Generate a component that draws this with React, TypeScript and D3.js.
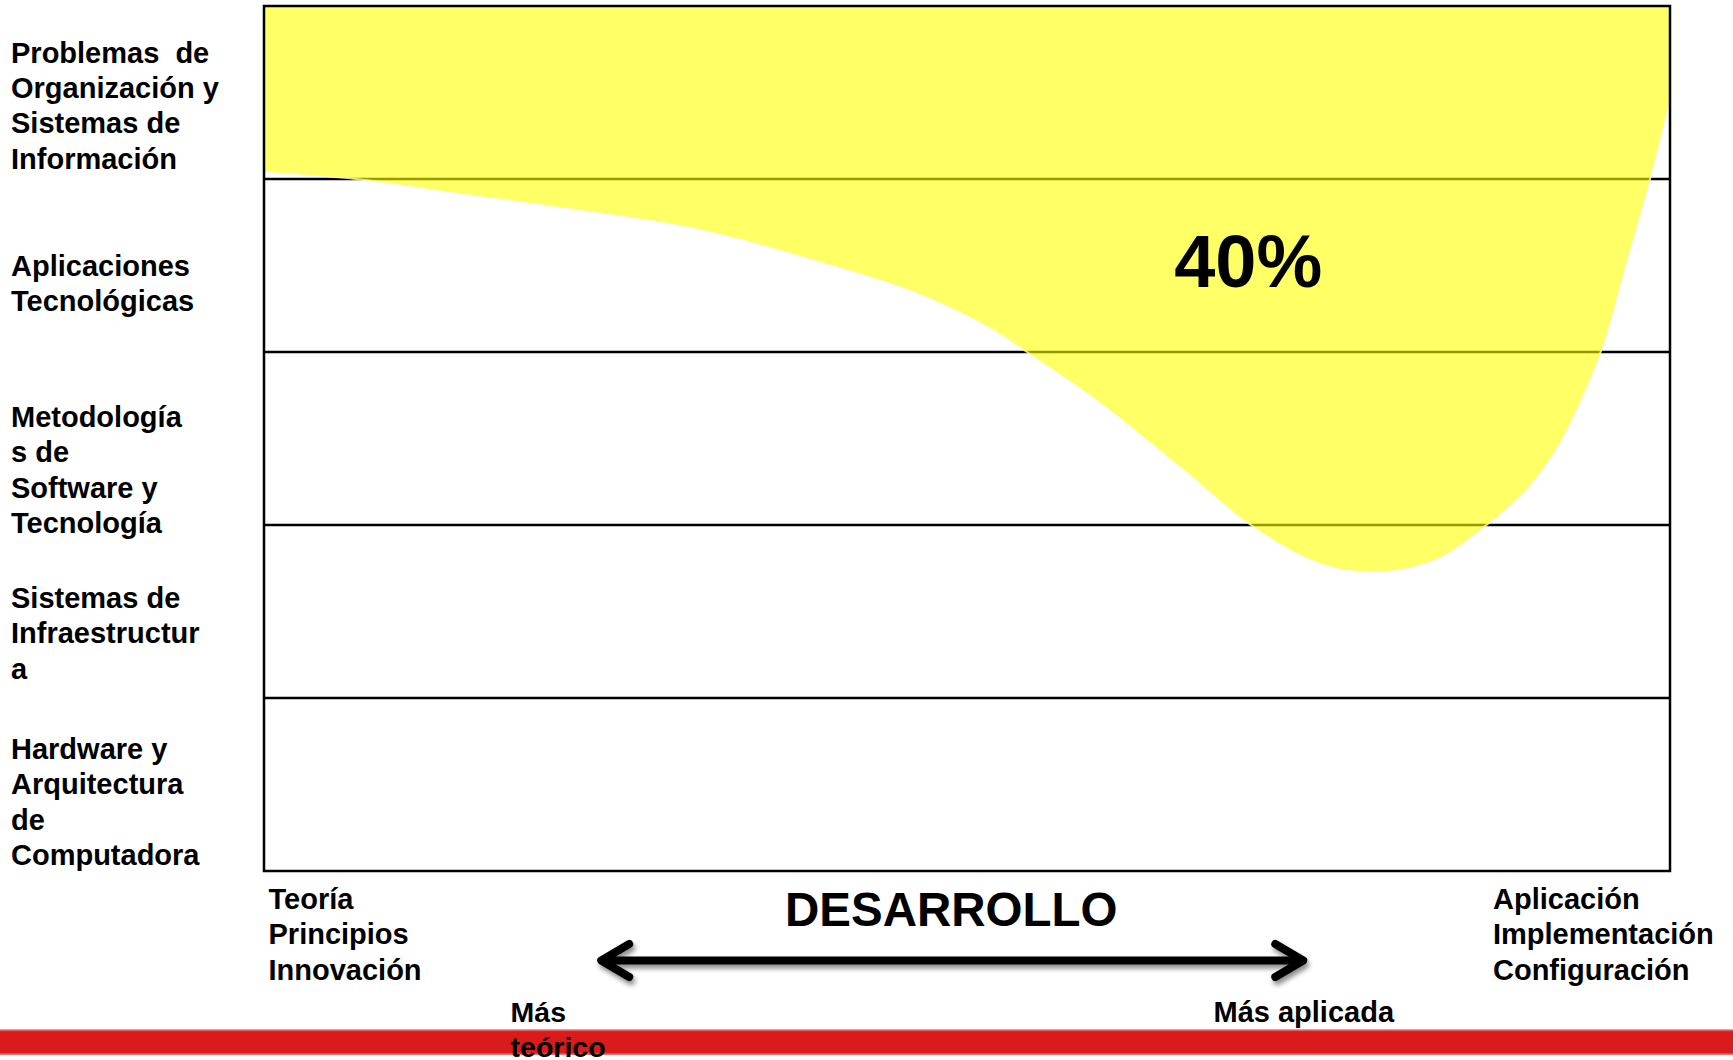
import React from 'react';
import * as d3 from 'd3';

// Layers of the discipline, from the organisational top to the hardware bottom
const layerLabels: string[][] = [
  ['Problemas  de', 'Organización y', 'Sistemas de', 'Información'],
  ['Aplicaciones', 'Tecnológicas'],
  ['Metodología', 's de', 'Software y', 'Tecnología'],
  ['Sistemas de', 'Infraestructur', 'a'],
  ['Hardware y', 'Arquitectura', 'de', 'Computadora'],
];

// Coverage profile: position on the theory→application axis (0–100)
// and how deep (in layers, from the top) the covered area reaches
const profileX = [0, 6.54, 14.51, 21.76, 31.01, 39.19, 46.51, 51.42, 54.27, 59.6, 65.72, 70.2, 75.11, 79.16, 83.29, 86.95, 88.83, 90.54, 92.25, 95.02, 96.94, 98.58, 100];
const profileDepth = [0.96, 1.0, 1.09, 1.17, 1.29, 1.47, 1.66, 1.85, 2.0, 2.3, 2.7, 3.0, 3.22, 3.27, 3.2, 3.0, 2.87, 2.72, 2.51, 2.01, 1.47, 1.0, 0.54];

const coverageShare = 40;

const theoryLabels = ['Teoría', 'Principios', 'Innovación'];
const applicationLabels = ['Aplicación', 'Implementación', 'Configuración'];
const axisTitle = 'DESARROLLO';
const moreTheoretical = ['Más', 'teórico'];
const moreApplied = ['Más aplicada'];

const W = 1733;
const H = 1060;
const frame = { left: 264, right: 1670, top: 6, bottom: 871 };
const FONT = '"Liberation Sans", Arial, Helvetica, sans-serif';
const LINE = 35.4;
// per-layer vertical shift of the left-hand label blocks
const labelShift = [12.6, 17.4, 31.1, 21.4, 17.1];

export default function App() {
  const x = d3.scaleLinear().domain([0, 100]).range([frame.left, frame.right]);
  const y = d3.scaleLinear().domain([0, layerLabels.length]).range([frame.top, frame.bottom]);
  const band = d3
    .scaleBand<number>()
    .domain(d3.range(layerLabels.length))
    .range([frame.top, frame.bottom]);

  const profile = profileX.map((v, i) => ({ x: v, d: profileDepth[i] }));
  const curve = d3.curveCatmullRom.alpha(0.5);

  const area = d3
    .area<{ x: number; d: number }>()
    .x((p) => x(p.x))
    .y0(y(0))
    .y1((p) => y(p.d))
    .curve(curve);
  const edge = d3
    .line<{ x: number; d: number }>()
    .x((p) => x(p.x))
    .y((p) => y(p.d))
    .curve(curve);

  const dividers = d3.range(1, layerLabels.length);

  // arrow along the bottom, in axis units
  const arrowFrom = x(23.7);
  const arrowTo = x(74.2);
  const arrowY = 960.5;
  const head = { dx: 32, dy: 16.5 };

  return (
    <svg
      width={W}
      height={H}
      viewBox={`0 0 ${W} ${H}`}
      style={{ position: 'absolute', left: 0, top: 0, background: '#fff' }}
      fontFamily={FONT}
      fontWeight="bold"
    >
      <defs>
        <filter id="arrowShadow" x="-10%" y="-60%" width="120%" height="220%">
          <feDropShadow dx="2" dy="4" stdDeviation="2.5" floodColor="#000" floodOpacity="0.45" />
        </filter>
        <linearGradient id="redBar" x1="0" y1="0" x2="0" y2="1">
          <stop offset="0" stopColor="#f2b8b8" />
          <stop offset="0.1" stopColor="#da1b1b" />
          <stop offset="0.9" stopColor="#da1b1b" />
          <stop offset="1" stopColor="#eb8a8a" />
        </linearGradient>
      </defs>

      <rect x={0} y={0} width={W} height={H} fill="#fff" />

      {/* layer dividers */}
      {dividers.map((d) => (
        <line
          key={d}
          x1={frame.left}
          x2={frame.right}
          y1={y(d)}
          y2={y(d)}
          stroke="#000"
          strokeWidth={2.5}
        />
      ))}

      {/* covered area */}
      <path d={edge(profile) ?? ''} fill="none" stroke="#fff" strokeWidth={2} strokeOpacity={0.8} />
      <path d={area(profile) ?? ''} fill="#ffff00" fillOpacity={0.6} />

      {/* outer frame */}
      <rect
        x={frame.left}
        y={frame.top}
        width={frame.right - frame.left}
        height={frame.bottom - frame.top}
        fill="none"
        stroke="#000"
        strokeWidth={2.5}
      />

      <text x={x(70)} y={287} fontSize={74} textAnchor="middle" fill="#000">
        {`${coverageShare}%`}
      </text>

      {/* layer labels */}
      {layerLabels.map((lines, i) => {
        const center = (band(i) ?? 0) + band.bandwidth() / 2;
        const first = center + labelShift[i] - ((lines.length - 1) * LINE) / 2 + 10.5;
        return (
          <text key={i} x={11} fontSize={29} fill="#000" style={{ whiteSpace: 'pre' }}>
            {lines.map((t, j) => (
              <tspan key={j} x={11} y={first + j * LINE}>
                {t}
              </tspan>
            ))}
          </text>
        );
      })}

      {/* axis end labels */}
      <text fontSize={29} fill="#000">
        {theoryLabels.map((t, j) => (
          <tspan key={j} x={x(0) + 4.5} y={909 + j * LINE}>
            {t}
          </tspan>
        ))}
      </text>
      <text fontSize={29} fill="#000">
        {applicationLabels.map((t, j) => (
          <tspan key={j} x={1493} y={909 + j * LINE}>
            {t}
          </tspan>
        ))}
      </text>

      <text x={(arrowFrom + arrowTo) / 2 - 1} y={926.4} fontSize={47.5} textAnchor="middle" fill="#000">
        {axisTitle}
      </text>

      {/* red footer bar */}
      <rect x={0} y={1029} width={W} height={26} fill="url(#redBar)" />

      {/* double-headed arrow */}
      <g filter="url(#arrowShadow)" stroke="#000" strokeWidth={8} fill="none" strokeLinejoin="round">
        <line x1={arrowFrom + 4} x2={arrowTo - 4} y1={arrowY} y2={arrowY} />
        <polyline
          strokeLinecap="round"
          points={`${arrowFrom + head.dx},${arrowY - head.dy} ${arrowFrom + 4},${arrowY} ${arrowFrom + head.dx},${arrowY + head.dy}`}
        />
        <polyline
          strokeLinecap="round"
          points={`${arrowTo - head.dx},${arrowY - head.dy} ${arrowTo - 4},${arrowY} ${arrowTo - head.dx},${arrowY + head.dy}`}
        />
      </g>

      <text fontSize={28.5} fill="#000">
        {moreTheoretical.map((t, j) => (
          <tspan key={j} x={510.6} y={1022 + j * 34.5}>
            {t}
          </tspan>
        ))}
      </text>
      <text fontSize={29} fill="#000">
        {moreApplied.map((t, j) => (
          <tspan key={j} x={1213.5} y={1022 + j * LINE}>
            {t}
          </tspan>
        ))}
      </text>
    </svg>
  );
}
